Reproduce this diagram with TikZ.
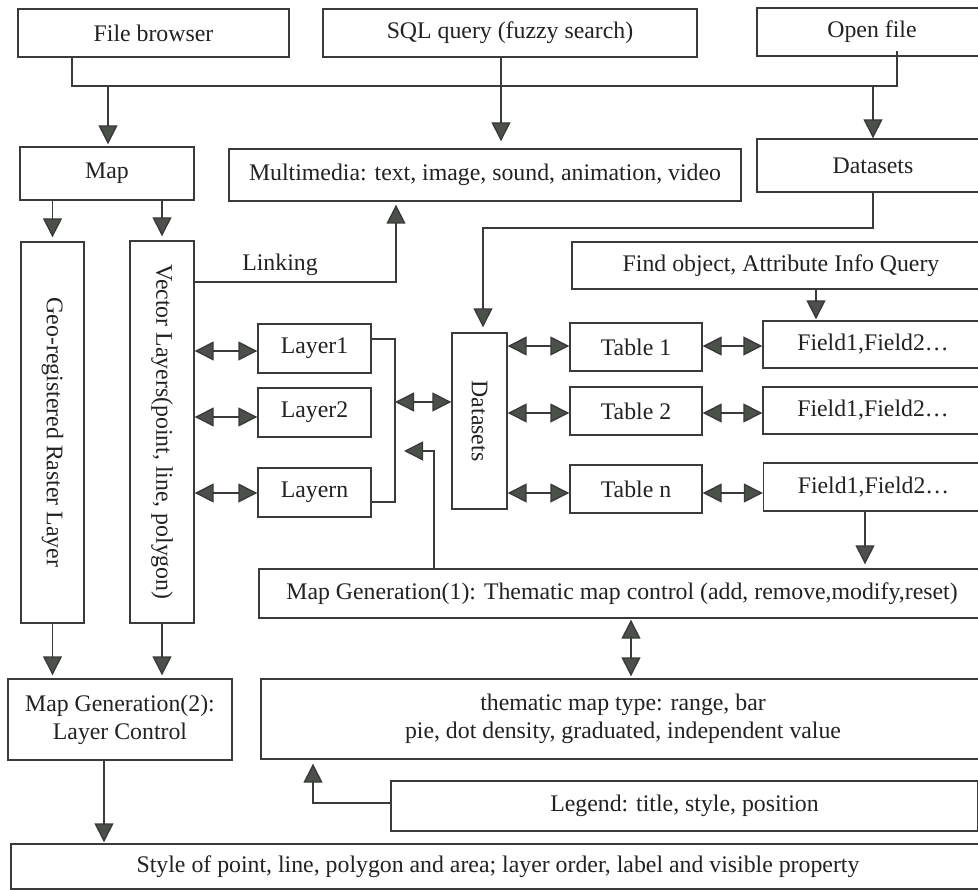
\documentclass[tikz,border=0pt]{standalone}
\usepackage{fontspec}
\setmainfont{Liberation Serif}
\usetikzlibrary{arrows.meta,calc}
\definecolor{lnc}{HTML}{3A3A3A}
\definecolor{tipc}{HTML}{4B504B}
\definecolor{txtc}{HTML}{222222}
\begin{document}
\begin{tikzpicture}[x=1pt,y=-1pt,
  box/.style={draw=lnc, line width=1.4pt, inner sep=0pt, text=txtc,
              font=\fontsize{23.8}{28}\selectfont, align=center},
  lbl/.style={text=txtc, font=\fontsize{23.8}{28}\selectfont, inner sep=0pt},
  conn/.style={draw=lnc, line width=1.4pt},
  arr/.style={conn, -{Triangle[length=19pt,width=19pt,fill=tipc]}},
  darr/.style={conn, {Triangle[length=19pt,width=19pt,fill=tipc]}-{Triangle[length=19pt,width=19pt,fill=tipc]}},
]
\useasboundingbox (0,0) rectangle (978,890);
\fill[white] (0,0) rectangle (978,890);

% top row
\node[box, minimum width=271, minimum height=48] (fb)   at (153.5,33) {File browser};
\node[box, minimum width=374, minimum height=48] (sql)  at (510,33)   {SQL query (fuzzy search)};
\node[box, minimum width=230, minimum height=48] (open) at (872,32)   {Open file};

% second row
\node[box, minimum width=174, minimum height=53] (map) at (107,173.5) {Map};
\node[box, minimum width=512, minimum height=52] (mm)  at (485,175)   {Multimedia: text, image, sound, animation, video};
\node[box, minimum width=232, minimum height=53] (ds1) at (873,165.5) {Datasets};

% vertical boxes
\node[box, minimum width=63, minimum height=381] (geo) at (52.5,432.5) {};
\node[lbl, rotate=-90] (geot) at (geo.center) {Geo-registered Raster Layer};
\node[box, minimum width=64, minimum height=382] (vec) at (162,432) {};
\node[lbl, rotate=-90] (vect) at (vec.center) {Vector Layers(point, line, polygon)};

% layers
\node[box, minimum width=113, minimum height=49] (l1) at (314.5,348.5) {Layer1};
\node[box, minimum width=113, minimum height=49] (l2) at (314.5,412.5) {Layer2};
\node[box, minimum width=113, minimum height=49] (l3) at (314.5,492.5) {Layern};

% datasets vertical
\node[box, minimum width=55, minimum height=176] (ds2) at (479.5,421) {};
\node[lbl, rotate=-90] (ds2t) at (ds2.center) {Datasets};

% find / tables / fields
\node[box, minimum width=418, minimum height=47] (find) at (781,265.5) {Find object, Attribute Info Query};
\node[box, minimum width=132, minimum height=48] (t1) at (636,347) {Table 1};
\node[box, minimum width=132, minimum height=48] (t2) at (636,411) {Table 2};
\node[box, minimum width=132, minimum height=48] (t3) at (636,489) {Table n};
\node[box, minimum width=220, minimum height=47] (f1) at (873,344.5) {Field1,Field2…};
\node[box, minimum width=220, minimum height=47] (f2) at (873,410.5) {Field1,Field2…};
\node[box, minimum width=220, minimum height=48] (f3) at (873.5,487) {Field1,Field2…};

% map generation etc.
\node[box, minimum width=726, minimum height=49] (mg1) at (622,593.5) {Map Generation(1): Thematic map control (add, remove,modify,reset)};
\node[box, minimum width=724, minimum height=80] (them) at (623,719) {thematic map type: range, bar\\pie, dot density, graduated, independent value};
\node[box, minimum width=587, minimum height=50] (leg) at (684.5,806) {Legend: title, style, position};
\node[box, minimum width=224, minimum height=81] (mg2) at (120,719.5) {Map Generation(2):\\Layer Control};
\node[box, minimum width=974, minimum height=45] (style) at (498,866.5) {Style of point, line, polygon and area; layer order, label and visible property};

% junction coordinates
\coordinate (jfb) at (72,86);
\coordinate (jop) at (897,86);
\coordinate (jmap) at (108,86);
\coordinate (jds) at (873,86);
\coordinate (d1) at (873,228);
\coordinate (d2) at (483,228);
\coordinate (lk) at (396,282);
\coordinate (br1) at (395,339);
\coordinate (br2) at (395,502);
\coordinate (brm) at (395,402);
\coordinate (mgk) at (434,451);
\coordinate (mgt) at (404,451);
\coordinate (lgk) at (313,803);

% top connectors
\draw[conn] (fb.south -| jfb) -- (jfb) -- (jop) -- ([yshift=6pt]open.south -| jop);
\draw[arr, shorten >=2pt] (jmap) -- (map.north -| jmap);
\draw[arr, shorten >=7pt] (sql.south -| 501,0) -- (mm.north -| 501,0);
\draw[arr] (jds) -- (ds1.north -| jds);
\draw[arr, shorten >=5pt] (ds1.south -| d1) -- (d1) -- (d2) -- (ds2.north -| d2);

% map to vertical boxes
\draw[arr, shorten >=4pt] (map.south -| geo.north) -- (geo.north);
\draw[arr, shorten >=4pt] (map.south -| vec.north) -- (vec.north);

% linking
\draw[arr, shorten >=3pt] (vec.east |- lk) -- (lk) -- (mm.south -| lk);
\node[lbl, anchor=south] (lktxt) at (280,276) {Linking};

% vector <-> layers
\draw[darr] (vec.east |- 0,351) -- (l1.west |- 0,351);
\draw[darr] (vec.east |- 0,417) -- (l2.west |- 0,417);
\draw[darr] (vec.east |- 0,493) -- (l3.west |- 0,493);

% bracket
\draw[conn] (l1.east |- br1) -- (br1) -- (br2) -- (l3.east |- br2);
\draw[darr] (brm) -- (ds2.west |- brm);

% mg1 to datasets
\draw[arr] (mg1.north -| mgk) -- (mgk) -- (mgt);

% datasets <-> tables <-> fields
\draw[darr] (ds2.east |- 0,346) -- (t1.west |- 0,346);
\draw[darr] (ds2.east |- 0,413) -- (t2.west |- 0,413);
\draw[darr] (ds2.east |- 0,493) -- (t3.west |- 0,493);
\draw[darr] (t1.east |- 0,346) -- (f1.west |- 0,346);
\draw[darr] (t2.east |- 0,413) -- (f2.west |- 0,413);
\draw[darr] (t3.east |- 0,493) -- (f3.west |- 0,493);

\draw[arr, shorten >=1pt] (find.south -| 816,0) -- (f1.north -| 816,0);
\draw[arr, shorten >=4pt] (f3.south -| 865,0) -- (mg1.north -| 865,0);

\draw[darr, shorten <=1pt, shorten >=2pt] (mg1.south -| 631,0) -- (them.north -| 631,0);
\draw[arr, shorten >=4pt] (leg.west |- lgk) -- (lgk) -- (them.south -| lgk);

% to map generation 2
\draw[arr, shorten >=3pt] (geo.south) -- (mg2.north -| geo.south);
\draw[arr, shorten >=3pt] (vec.south) -- (mg2.north -| vec.south);
\draw[arr, shorten >=1pt] (mg2.south -| 104,0) -- (style.north -| 104,0);
\end{tikzpicture}
\end{document}
